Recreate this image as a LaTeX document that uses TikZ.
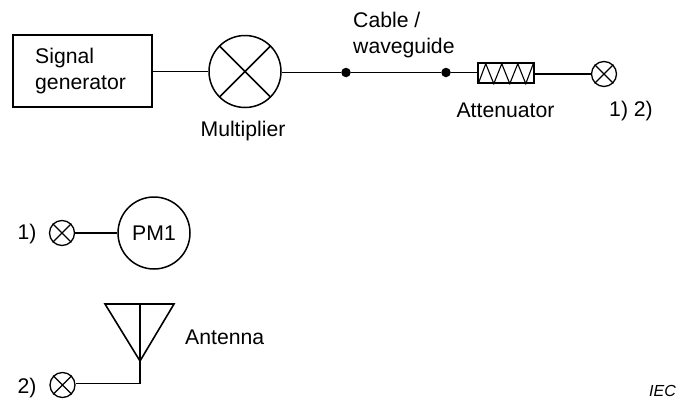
\documentclass[tikz,border=0pt]{standalone}
\usepackage{fontspec}
\setmainfont{Liberation Sans}
\tikzset{x=1pt,y=-1pt,
 wire/.style={line width=1.6pt,black},
 lbl/.style={inner sep=0pt,font=\fontsize{21.2}{26}\selectfont,align=left},
 port/.style={circle,draw,line width=1.3pt,minimum size=25pt,inner sep=0pt},
 dotn/.style={circle,fill=black,minimum size=9.5pt,inner sep=0pt}}
\begin{document}
\begin{tikzpicture}
\useasboundingbox (0,0) rectangle (679,399);
\node[draw,line width=1.5pt,minimum width=139pt,minimum height=72pt,inner sep=0pt] (gen) at (82.5,71) {};
\node[lbl,anchor=west] at (35,71) {Signal\\generator};
\node[circle,draw,line width=1.5pt,minimum size=72pt,inner sep=0pt] (mul) at (245,71.5) {};
\draw[wire] (mul.45) -- (mul.225) (mul.135) -- (mul.315);
\draw[wire] (gen.east |- mul.west) -- (mul.west);
\node[dotn] (d1) at (346,72.5) {};
\node[dotn] (d2) at (446,72.5) {};
\node[draw,line width=1.5pt,minimum width=56pt,minimum height=20pt,inner sep=0pt] (att) at (506,73) {};
\draw[line width=1.1pt] ([xshift=1pt]att.south west) -- ++(7.5,-20) -- ++(8,20) -- ++(8,-20) -- ++(8,20) -- ++(8,-20) -- ++(8,20) -- ++(7.5,-20);
\node[port] (p0) at (604,74) {};
\draw[line width=1.1pt] (p0.45) -- (p0.225) (p0.135) -- (p0.315);
\draw[wire] (mul.east |- d1) -- (d1) -- (d2) -- (att.west |- d2);
\draw[wire] (att.east |- p0.west) -- (p0.west);
\node[lbl,anchor=west] at (353,35) {Cable /\\waveguide};
\node[lbl,anchor=center] at (243,131) {Multiplier};
\node[lbl,anchor=center] at (505.5,110) {Attenuator};
\node[lbl,anchor=center] at (631,111) {1) 2)};
\node[port] (p1) at (62,233) {};
\draw[line width=1.1pt] (p1.45) -- (p1.225) (p1.135) -- (p1.315);
\node[circle,draw,line width=1.5pt,minimum size=72pt,inner sep=0pt,font=\fontsize{21.2}{26}\selectfont] (pm) at (154,233) {PM1};
\draw[wire] (p1.east) -- (pm.west);
\node[lbl,anchor=center] at (27,234) {1)};
\node[port] (p2) at (62.5,385) {};
\draw[line width=1.1pt] (p2.45) -- (p2.225) (p2.135) -- (p2.315);
\coordinate (ant) at (140,304);
\coordinate (base) at (140,361);
\coordinate (low) at (140,383.5);
\draw[wire,line join=miter] (105,304) -- (174,304) -- (base) -- cycle;
\draw[wire] (ant) -- (low) -- (p2.east |- low);
\node[lbl,anchor=center] at (27,388) {2)};
\node[lbl,anchor=west] at (185,337) {Antenna};
\node[inner sep=0pt,font=\fontsize{16}{18}\selectfont\itshape] at (662.5,390.5) {IEC};
\end{tikzpicture}
\end{document}
